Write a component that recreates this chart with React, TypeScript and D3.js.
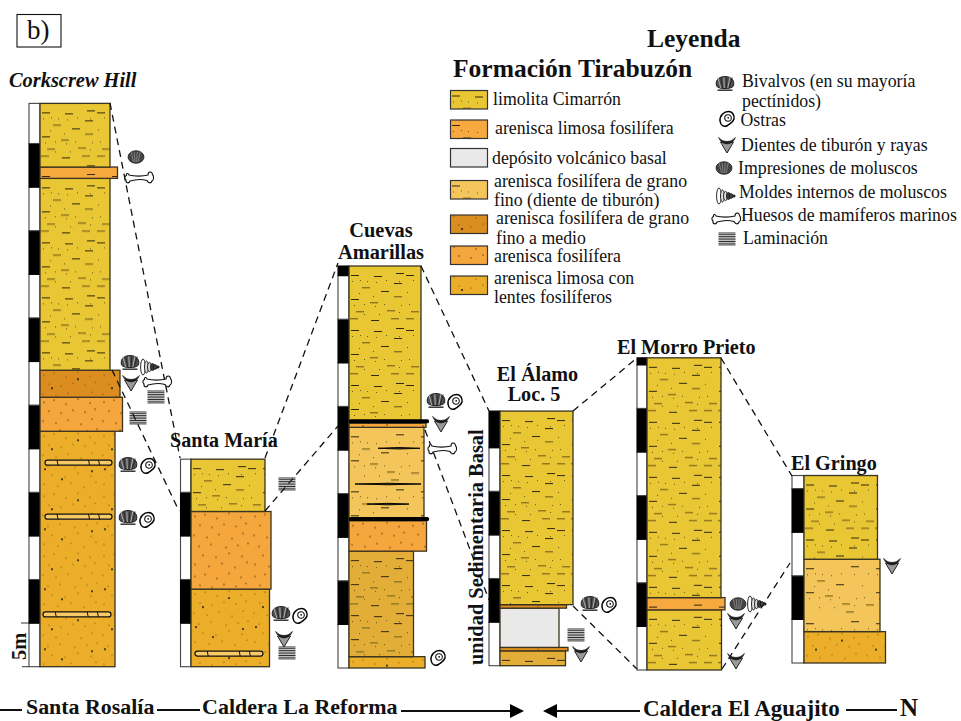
import React from "react";
import * as d3 from "d3";

// ---------- data: stratigraphic sections (metres above section base) ----------
const M_PER_BAND = 5;
const PX_PER_M = 8.72;

type Lith = "silt" | "siltOrange" | "volcanic" | "fine" | "fineMedium" | "fossil" | "lens" | "tan";

const corkscrewLayers: [Lith, number, number][] = [
  ["lens", 27.0, 75], ["fossil", 30.9, 82.5], ["fineMedium", 34.0, 80],
  ["silt", 56.0, 70], ["siltOrange", 57.3, 77.5], ["silt", 64.6, 70],
];
const santaMariaLayers: [Lith, number, number][] = [
  ["lens", 8.9, 78.5], ["fossil", 17.8, 80], ["silt", 23.8, 74],
];
const cuevasLayers: [Lith, number, number][] = [
  ["lens", 1.3, 76], ["tan", 13.4, 64.5], ["fossil", 16.9, 77.5],
  ["fine", 27.6, 75], ["fossil", 28.1, 77], ["silt", 46.1, 72],
];
const alamoLayers: [Lith, number, number][] = [
  ["tan", 1.7, 65.5], ["fineMedium", 2.1, 68], ["volcanic", 6.6, 59],
  ["fineMedium", 7.0, 66.5], ["silt", 29.2, 73],
];
const morroLayers: [Lith, number, number][] = [
  ["silt", 6.9, 74.5], ["siltOrange", 8.3, 78], ["silt", 35.8, 74],
];
const gringoLayers: [Lith, number, number][] = [
  ["lens", 3.6, 81.5], ["fine", 11.9, 76], ["silt", 21.5, 73.5],
];

const corkscrewLenses: [number, number, number][] = [[23.4, 5, 72], [17.2, 5, 72], [6.0, 3, 71]];
const santaMariaLenses: [number, number, number][] = [[1.5, 4, 72]];
const cuevasBlackLenses: [number, number, number][] = [[25.2, 29, 71], [21.1, 6, 72], [18.8, 18, 60]];
const cuevasBeds: number[] = [17.1, 28.3];

const lithColor: Record<Lith, string> = {
  silt: "#E9C633", siltOrange: "#F5A93F", volcanic: "#E9E9E9", fine: "#F3C55B",
  fineMedium: "#DB8D1F", fossil: "#F5A73E", lens: "#ECAE28", tan: "#E3AE38",
};
const lithTexture: Record<Lith, "silt" | "siltdots" | "none" | "sand" | "sandbig"> = {
  silt: "silt", siltOrange: "siltdots", volcanic: "none", fine: "siltdots",
  fineMedium: "sandbig", fossil: "sand", lens: "sandbig", tan: "silt",
};

const siltBlack = [[2, 9], [25, 10], [47, 7], [57, 9], [32, 25], [45, 17], [2, 33], [22, 54]];
const siltOlive = [[13, 21], [45, 30], [21, 36], [7, 45], [38, 44], [1, 52], [42, 52], [57, 52], [62, 45]];
const siltDots = [[3, 15], [11, 14], [18, 15], [27, 16], [37, 14], [50, 15], [64, 14], [5, 39], [15, 38], [26, 40], [35, 38], [52, 39], [60, 38], [10, 27], [24, 30], [58, 26], [30, 48], [50, 46], [15, 48]];
const sandDots = [[4, 5], [14, 3], [26, 7], [38, 2], [50, 6], [9, 14], [21, 16], [33, 13], [45, 15], [55, 12], [3, 24], [16, 26], [28, 23], [41, 27], [52, 22], [8, 35], [20, 33], [35, 36], [47, 34], [57, 32], [12, 44], [25, 46], [38, 42], [51, 45], [4, 53], [18, 55], [31, 52], [44, 56], [56, 51]];
const sandBig = [[12, 18], [38, 9], [52, 40], [22, 48], [5, 38]];

// ---------- labels ----------
const legendLiths: [Lith, string[]][] = [
  ["silt", ["limolita Cimarrón"]],
  ["siltOrange", ["arenisca limosa fosilífera"]],
  ["volcanic", ["depósito volcánico basal"]],
  ["fine", ["arenisca fosilífera de grano", "fino (diente de tiburón)"]],
  ["fineMedium", ["arenisca fosilífera de grano", "fino a medio"]],
  ["fossil", ["arenisca fosilífera"]],
  ["lens", ["arenisca limosa con", "lentes fosilíferos"]],
];
const legendSwatchY = [90.5, 120, 148.5, 180.5, 215, 246, 276];
const legendTextX = [493, 495, 492, 494, 496, 494, 494];
const legendTextY = [[105], [134], [164], [187, 206], [224, 244], [262], [284, 303]];

type Icon = "bivalve" | "oyster" | "tooth" | "impression" | "mould" | "bone" | "lam";
const iconLegend: [Icon, number, number, string[], number, number[]][] = [
  ["bivalve", 725, 84, ["Bivalvos (en su mayoría", "pectínidos)"], 742, [87, 107]],
  ["oyster", 727, 119, ["Ostras"], 740.5, [126]],
  ["tooth", 727, 145, ["Dientes de tiburón y rayas"], 741, [151]],
  ["impression", 724, 168, ["Impresiones de moluscos"], 738, [174]],
  ["mould", 726, 196, ["Moldes internos de moluscos"], 739, [198]],
  ["bone", 726, 219, ["Huesos de mamíferos marinos"], 741, [221]],
  ["lam", 727, 239, ["Laminación"], 743, [244]],
];
const iconMarks: [Icon, number, number][] = [
  ["impression", 136, 157], ["bone", 139, 178],
  ["bivalve", 130, 363], ["mould", 150, 367], ["tooth", 131, 383], ["bone", 157, 382], ["lam", 156, 397], ["lam", 138, 418],
  ["bivalve", 128, 465], ["oyster", 148, 466], ["bivalve", 128, 518], ["oyster", 147, 520],
  ["bivalve", 281, 614], ["oyster", 300, 616], ["tooth", 284, 639], ["lam", 287, 653], ["lam", 287, 484],
  ["bivalve", 436, 401], ["oyster", 455, 402], ["tooth", 441, 424], ["bone", 442, 449], ["oyster", 438, 658],
  ["bivalve", 590, 604], ["oyster", 609, 605], ["lam", 576, 635], ["tooth", 581, 654],
  ["impression", 738, 604], ["mould", 757, 604], ["tooth", 736, 621], ["tooth", 736, 661],
  ["tooth", 892, 566],
];

// ---------- layout ----------
const SERIF = "'Liberation Serif', serif";
const sections = [
  { key: "ck", scaleX: 29, barX: 40, base: 666.7, layers: corkscrewLayers },
  { key: "sm", scaleX: 180.5, barX: 191, base: 666.7, layers: santaMariaLayers },
  { key: "cu", scaleX: 338, barX: 349, base: 668, layers: cuevasLayers },
  { key: "al", scaleX: 489, barX: 500, base: 665.7, layers: alamoLayers },
  { key: "mo", scaleX: 637, barX: 647, base: 670, layers: morroLayers },
  { key: "gr", scaleX: 792, barX: 804, base: 663, layers: gringoLayers },
];
const yOf = (base: number) => d3.scaleLinear().domain([0, 100]).range([base, base - 100 * PX_PER_M]);
const wOf = (barX: number) => d3.scaleLinear().domain([0, 100]).range([barX, barX + 100]);

const correlations: [number, number, number, number][] = [
  [110, 103, 180, 458], [112, 370, 179, 511], [265, 458, 338, 263], [265, 511, 338, 426],
  [421, 266, 489, 411], [425, 430, 489, 600], [573, 411, 637, 358], [573, 606, 637, 669],
  [721, 358, 792, 476], [722, 669, 790, 563],
];

function Texture({ id, kind, color, x, y }: any) {
  const w = kind === "silt" || kind === "siltdots" ? 70 : 60;
  const h = kind === "silt" || kind === "siltdots" ? 55 : 60;
  return (
    <pattern id={id} patternUnits="userSpaceOnUse" x={x} y={y} width={w} height={h}>
      <rect width={w} height={h} fill={color} />
      {(kind === "silt" || kind === "siltdots") && (
        <>
          {siltBlack.filter((_, i) => kind === "silt" || i % 2 === 0).map(([a, b], i) => <rect key={i} x={a} y={b} width={8} height={0.9} fill="#1d1608" />)}
          {siltOlive.filter((_, i) => kind === "silt" || i % 2 === 0).map(([a, b], i) => <rect key={i} x={a} y={b} width={8} height={1.4} fill="#8d7420" />)}
          {siltDots.map(([a, b], i) => <rect key={i} x={a} y={b} width={0.9} height={0.9} fill="#4a3c10" />)}
        </>
      )}
      {(kind === "sand" || kind === "sandbig") && sandDots.map(([a, b], i) => <circle key={i} cx={a} cy={b} r={kind === "sand" ? 0.65 : 0.5} fill="#3a2608" />)}
      {kind === "sandbig" && sandBig.map(([a, b], i) => <circle key={i} cx={a} cy={b} r={0.95} fill="#111" />)}
    </pattern>
  );
}

function Glyph({ kind, x, y }: { kind: Icon; x: number; y: number }) {
  const t = `translate(${x},${y})`;
  if (kind === "bivalve")
    return (
      <g transform={t}>
        <path d="M-8.5,2 C-10.5,-6 -3,-7.5 0,-7.5 C3,-7.5 10.5,-6 8.5,2 C6,5.5 -6,5.5 -8.5,2Z" fill="#4e4e4e" stroke="#222" strokeWidth={1} />
        {[-6, -3.5, -1, 1.5, 4, 6].map((d, i) => <path key={d} d={`M${d * 0.7},4 L${d * 1.2},-6.5`} stroke={i % 2 ? "#222" : "#bbb"} strokeWidth={0.9} />)}
        <path d="M-7.5,6.2 H7.5" stroke="#333" strokeWidth={1.5} />
      </g>
    );
  if (kind === "impression")
    return (
      <g transform={t}>
        <ellipse rx={8} ry={6.3} fill="#444" stroke="#222" strokeWidth={0.8} />
        {[-4, -1.5, 1, 3.5].map((d) => <path key={d} d={`M${d * 0.6},5 L${d * 1.2},-5`} stroke="#999" strokeWidth={0.7} />)}
      </g>
    );
  if (kind === "oyster")
    return (
      <g transform={t}>
        <path d="M-7,2 C-7.5,-3.5 -3,-7.5 1.5,-7.5 C6,-7.5 7.5,-3 7,0 C6,3.5 3,4.5 0.5,6.5 C-3,8.5 -6.5,6.5 -7,2Z" fill="#fff" stroke="#000" strokeWidth={1.5} />
        <circle cx={1} cy={-1} r={3.3} fill="none" stroke="#111" strokeWidth={1.1} />
        <circle cx={1.2} cy={-1.2} r={0.9} fill="#111" />
      </g>
    );
  if (kind === "tooth")
    return (
      <g transform={t}>
        <path d="M-6.5,-3 L0,8 L6.5,-3Z" fill="#9a9a9a" stroke="#222" strokeWidth={1} />
        <path d="M-8.5,-7.5 Q-4,-3 0,-3.5 Q4,-3 8.5,-7.5 Q6,-1.5 0,-1 Q-6,-1.5 -8.5,-7.5Z" fill="#1a1a1a" stroke="#1a1a1a" strokeWidth={0.6} />
      </g>
    );
  if (kind === "mould")
    return (
      <g transform={t}>
        {[[-7, 8], [-3.5, 6], [-0.5, 4.6], [2.5, 3.4], [5, 2.3]].map(([c, r], i) => (
          <ellipse key={i} cx={c} cy={0} rx={i === 0 ? 2.4 : 2} ry={r} fill={i === 0 ? "#fff" : i > 2 ? "#444" : "#ddd"} stroke="#111" strokeWidth={0.9} />
        ))}
        <circle cx={8} cy={0} r={1.5} fill="#222" />
      </g>
    );
  if (kind === "bone")
    return (
      <g transform={t}>
        <path d="M-10,-3 C-5,-1.5 4,-1.5 9,-3 C9,-7 13,-7 13.5,-3.5 C15,-2 15,2 13,3 C12,6 9,5 8,2.5 C3,1 -4,1.5 -9,3 C-10,6 -13.5,5 -13,2 C-15,0 -14,-2 -12.5,-2.5 C-13,-5 -10.5,-5 -10,-3Z" fill="#fff" stroke="#111" strokeWidth={1.1} />
      </g>
    );
  return (
    <g transform={t}>
      {d3.range(-6, 6.1, 1.7).map((d) => <line key={d} x1={-8.5} x2={8.5} y1={d} y2={d} stroke="#222" strokeWidth={0.95} />)}
    </g>
  );
}

function Lens({ x1, x2, y }: { x1: number; x2: number; y: number }) {
  const w = x2 - x1;
  return (
    <g>
      <rect x={x1} y={y - 2.5} width={w} height={5} rx={2.5} fill="#F8CB66" stroke="#111" strokeWidth={1.2} />
      {[0.18, 0.65, 0.8].map((f) => <path key={f} d={`M${x1 + w * f},${y - 2.5} l1,5`} stroke="#111" strokeWidth={1} />)}
    </g>
  );
}

function Label({ x, y, size, children, bold = true, italic = false, anchor = "start", rotate = false }: any) {
  return (
    <text x={rotate ? 0 : x} y={rotate ? 0 : y} transform={rotate ? `translate(${x},${y}) rotate(-90)` : undefined}
      fontFamily={SERIF} fontSize={size} fontWeight={bold ? 700 : 400} fontStyle={italic ? "italic" : "normal"} textAnchor={anchor} fill="#111">
      {children}
    </text>
  );
}

export default function App() {
  return (
    <svg width={961} height={721} viewBox="0 0 961 721" style={{ position: "absolute", left: 0, top: 0, display: "block", background: "#fff" }}>
      <defs>
        {sections.flatMap((s) => s.layers.map((l, i) => (
          <Texture key={s.key + i} id={`${s.key}-${i}`} kind={lithTexture[l[0]]} color={lithColor[l[0]]} x={s.barX} y={yOf(s.base)(l[1])} />
        )))}
        {legendLiths.map(([l], i) => (
          <Texture key={"lg" + i} id={`lg-${i}`} kind={lithTexture[l]} color={lithColor[l]} x={450} y={legendSwatchY[i] - 4} />
        ))}
      </defs>

      {/* sections */}
      {sections.map((s) => {
        const y = yOf(s.base);
        const wx = wOf(s.barX);
        const top = s.layers[s.layers.length - 1][1];
        return (
          <g key={s.key}>
            {d3.range(0, top, M_PER_BAND).map((m, i) => (
              <rect key={m} x={s.scaleX} width={s.barX - s.scaleX} y={y(Math.min(m + M_PER_BAND, top))} height={y(m) - y(Math.min(m + M_PER_BAND, top))}
                fill={i % 2 ? "#000" : "#fff"} stroke={i % 2 ? "#000" : "#444"} strokeWidth={1.1} />
            ))}
            {s.layers.map((l, i) => {
              const lower = i ? s.layers[i - 1][1] : 0;
              return <rect key={i} x={wx(0)} width={wx(l[2]) - wx(0)} y={y(l[1])} height={y(lower) - y(l[1])} fill={`url(#${s.key}-${i})`} stroke="#3a3320" strokeWidth={1.3} />;
            })}
          </g>
        );
      })}

      {/* fossil lenses and black beds */}
      {corkscrewLenses.map(([m, a, b]) => <Lens key={m} x1={wOf(40)(a)} x2={wOf(40)(b)} y={yOf(666.7)(m)} />)}
      {santaMariaLenses.map(([m, a, b]) => <Lens key={m} x1={wOf(191)(a)} x2={wOf(191)(b)} y={yOf(666.7)(m)} />)}
      {cuevasBlackLenses.map(([m, a, b]) => (
        <path key={m} d={`M${wOf(349)(a)},${yOf(668)(m)} Q${wOf(349)((a + b) / 2)},${yOf(668)(m) - 1.5} ${wOf(349)(b)},${yOf(668)(m)} Q${wOf(349)((a + b) / 2)},${yOf(668)(m) + 1.5} ${wOf(349)(a)},${yOf(668)(m)}Z`} fill="#333" stroke="#000" strokeWidth={0.9} />
      ))}
      {cuevasBeds.map((m) => <rect key={m} x={349} width={80} y={yOf(668)(m) - 2} height={4} rx={1.5} fill="#000" />)}

      {/* correlation lines */}
      {correlations.map(([a, b, c, d], i) => <line key={i} x1={a} y1={b} x2={c} y2={d} stroke="#111" strokeWidth={1.3} strokeDasharray="7 5" />)}

      {/* scale */}
      <path d="M21,623 H29 M22,666.7 H29" stroke="#333" strokeWidth={1} fill="none" />

      {/* fossil glyphs */}
      {iconMarks.map(([k, x, y], i) => <Glyph key={i} kind={k} x={x} y={y} />)}

      {/* panel tag */}
      <rect x={17} y={14.5} width={44} height={32.5} fill="#fff" stroke="#111" strokeWidth={1.1} />
      <Label x={27} y={39} size={27} bold={false}>b)</Label>

      {/* titles */}
      <Label x={647} y={47} size={25.5}>Leyenda</Label>
      <Label x={453} y={77} size={25.5}>Formación Tirabuzón</Label>
      <Label x={9} y={87} size={20.4} italic>Corkscrew Hill</Label>
      <Label x={381} y={237} size={20.4} anchor="middle">Cuevas</Label>
      <Label x={381} y={259} size={20.4} anchor="middle">Amarillas</Label>
      <Label x={170} y={447} size={20.1}>Santa María</Label>
      <Label x={537.5} y={381} size={20.2} anchor="middle">El Álamo</Label>
      <Label x={534} y={401} size={20.2} anchor="middle">Loc. 5</Label>
      <Label x={617} y={354} size={20.2}>El Morro Prieto</Label>
      <Label x={791} y={470} size={20.2}>El Gringo</Label>
      <Label x={483} y={665} size={20.4} rotate>unidad Sedimentaria Basal</Label>
      <Label x={26} y={660} size={20.5} rotate>5m</Label>

      {/* legend: lithologies */}
      {legendLiths.map(([l, lines], i) => (
        <g key={l}>
          <rect x={450.5} y={legendSwatchY[i]} width={37} height={18.5} fill={`url(#lg-${i})`} stroke="#333" strokeWidth={1.2} />
          {lines.map((t, j) => <Label key={j} x={legendTextX[i]} y={legendTextY[i][j]} size={17.8} bold={false}>{t}</Label>)}
        </g>
      ))}

      {/* legend: fossils */}
      {iconLegend.map(([k, x, y, lines, tx, tys]) => (
        <g key={k}>
          <Glyph kind={k} x={x} y={y} />
          {lines.map((t, j) => <Label key={j} x={tx} y={tys[j]} size={17.8} bold={false}>{t}</Label>)}
        </g>
      ))}

      {/* geography bar */}
      <Label x={26} y={714} size={21.9}>Santa Rosalía</Label>
      <Label x={202} y={714} size={22}>Caldera La Reforma</Label>
      <Label x={643} y={716} size={23}>Caldera El Aguajito</Label>
      <Label x={900} y={716} size={25}>N</Label>
      <path d="M0,710 H22 M157,710 H200 M401,711 H512 M555,711 H640 M846,710 H897" stroke="#111" strokeWidth={2} fill="none" />
      <path d="M510,704 L524,711 L510,718Z M557,704 L543,711 L557,718Z" fill="#000" />
    </svg>
  );
}
